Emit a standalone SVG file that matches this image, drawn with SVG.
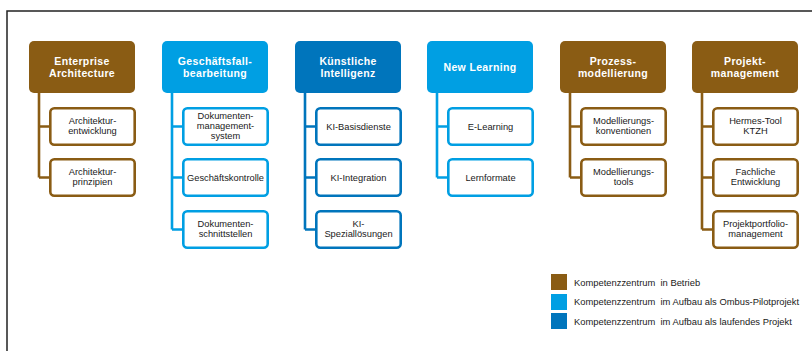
<svg xmlns="http://www.w3.org/2000/svg" width="812" height="351" viewBox="0 0 812 351">
<style>
.t{font-family:"Liberation Sans",Arial,sans-serif;font-weight:bold;font-size:10.5px;letter-spacing:0.35px;fill:#fff;text-anchor:middle}
.c{font-family:"Liberation Sans",Arial,sans-serif;font-size:9.3px;fill:#1a1a1a;text-anchor:middle}
.l{font-family:"Liberation Sans",Arial,sans-serif;font-size:9.4px;fill:#1a1a1a;white-space:pre}
.br{fill:#8A5C14}.lb{fill:#009FE3}.db{fill:#0075BC}
.cbr{fill:#fff;stroke:#8A5C14;stroke-width:2.6}
.clb{fill:#fff;stroke:#009FE3;stroke-width:2.6}
.cdb{fill:#fff;stroke:#0075BC;stroke-width:2.6}
.sbr{stroke:#8A5C14;stroke-width:2.6;fill:none}
.slb{stroke:#009FE3;stroke-width:2.6;fill:none}
.sdb{stroke:#0075BC;stroke-width:2.6;fill:none}
</style>
<rect width="812" height="351" fill="#fff"/>
<path d="M7 351 V11 H812" fill="none" stroke="#222" stroke-width="1.5"/>
<g id="connectors">
<path class="sbr" d="M39 93 V177.5 M39 126.5 H50 M39 177.5 H50"/>
<path class="slb" d="M172 93 V229.5 M172 126.5 H183 M172 177.5 H183 M172 229.5 H183"/>
<path class="sdb" d="M305 93 V229.5 M305 126.5 H316 M305 177.5 H316 M305 229.5 H316"/>
<path class="slb" d="M437 93 V177.5 M437 126.5 H448 M437 177.5 H448"/>
<path class="sbr" d="M570 93 V177.5 M570 126.5 H581 M570 177.5 H581"/>
<path class="sbr" d="M702 93 V229.5 M702 126.5 H713 M702 177.5 H713 M702 229.5 H713"/>
</g>
<g id="ea">
<rect class="br" x="29" y="41" width="106" height="52" rx="5"/>
<text class="t" x="82" y="64.5">Enterprise</text><text class="t" x="82" y="77">Architecture</text>
</g>
<g id="ea1"><rect class="cbr" x="50.3" y="108.3" width="84.4" height="36.4" rx="4"/>
<text class="c" x="92.5" y="124">Architektur-</text><text class="c" x="92.5" y="134">entwicklung</text></g>
<g id="ea2"><rect class="cbr" x="50.3" y="159.3" width="84.4" height="36.4" rx="4"/>
<text class="c" x="92.5" y="175">Architektur-</text><text class="c" x="92.5" y="185">prinzipien</text></g>

<g id="gf">
<rect class="lb" x="162" y="41" width="106" height="52" rx="5"/>
<text class="t" x="215" y="64.5">Geschäftsfall-</text><text class="t" x="215" y="77">bearbeitung</text>
</g>
<g id="gf1"><rect class="clb" x="183.3" y="108.3" width="84.4" height="36.4" rx="4"/>
<text class="c" x="225.5" y="119">Dokumenten-</text><text class="c" x="225.5" y="129">management-</text><text class="c" x="225.5" y="139">system</text></g>
<g id="gf2"><rect class="clb" x="183.3" y="159.3" width="84.4" height="36.4" rx="4"/>
<text class="c" x="225.5" y="180.5">Geschäftskontrolle</text></g>
<g id="gf3"><rect class="clb" x="183.3" y="211.3" width="84.4" height="36.4" rx="4"/>
<text class="c" x="225.5" y="227">Dokumenten-</text><text class="c" x="225.5" y="237">schnittstellen</text></g>

<g id="ki">
<rect class="db" x="295" y="41" width="106" height="52" rx="5"/>
<text class="t" x="348" y="64.5">Künstliche</text><text class="t" x="348" y="77">Intelligenz</text>
</g>
<g id="ki1"><rect class="cdb" x="316.3" y="108.3" width="84.4" height="36.4" rx="4"/>
<text class="c" x="358.5" y="129.5">KI-Basisdienste</text></g>
<g id="ki2"><rect class="cdb" x="316.3" y="159.3" width="84.4" height="36.4" rx="4"/>
<text class="c" x="358.5" y="180.5">KI-Integration</text></g>
<g id="ki3"><rect class="cdb" x="316.3" y="211.3" width="84.4" height="36.4" rx="4"/>
<text class="c" x="358.5" y="227">KI-</text><text class="c" x="358.5" y="237">Speziallösungen</text></g>

<g id="nl">
<rect class="lb" x="427" y="41" width="106" height="52" rx="5"/>
<text class="t" x="480" y="71">New Learning</text>
</g>
<g id="nl1"><rect class="clb" x="448.3" y="108.3" width="84.4" height="36.4" rx="4"/>
<text class="c" x="490.5" y="129.5">E-Learning</text></g>
<g id="nl2"><rect class="clb" x="448.3" y="159.3" width="84.4" height="36.4" rx="4"/>
<text class="c" x="490.5" y="180.5">Lernformate</text></g>

<g id="pm">
<rect class="br" x="560" y="41" width="106" height="52" rx="5"/>
<text class="t" x="613" y="64.5">Prozess-</text><text class="t" x="613" y="77">modellierung</text>
</g>
<g id="pm1"><rect class="cbr" x="581.3" y="108.3" width="84.4" height="36.4" rx="4"/>
<text class="c" x="623.5" y="124">Modellierungs-</text><text class="c" x="623.5" y="134">konventionen</text></g>
<g id="pm2"><rect class="cbr" x="581.3" y="159.3" width="84.4" height="36.4" rx="4"/>
<text class="c" x="623.5" y="175">Modellierungs-</text><text class="c" x="623.5" y="185">tools</text></g>

<g id="pj">
<rect class="br" x="692" y="41" width="106" height="52" rx="5"/>
<text class="t" x="745" y="64.5">Projekt-</text><text class="t" x="745" y="77">management</text>
</g>
<g id="pj1"><rect class="cbr" x="713.3" y="108.3" width="84.4" height="36.4" rx="4"/>
<text class="c" x="755.5" y="124">Hermes-Tool</text><text class="c" x="755.5" y="134">KTZH</text></g>
<g id="pj2"><rect class="cbr" x="713.3" y="159.3" width="84.4" height="36.4" rx="4"/>
<text class="c" x="755.5" y="175">Fachliche</text><text class="c" x="755.5" y="185">Entwicklung</text></g>
<g id="pj3"><rect class="cbr" x="713.3" y="211.3" width="84.4" height="36.4" rx="4"/>
<text class="c" x="755.5" y="227">Projektportfolio-</text><text class="c" x="755.5" y="237">management</text></g>

<g id="legend">
<rect class="br" x="551" y="274" width="16" height="16"/>
<text class="l" x="574" y="285.5">Kompetenzzentrum  in Betrieb</text>
<rect class="lb" x="551" y="294" width="16" height="16"/>
<text class="l" x="574" y="305">Kompetenzzentrum  im Aufbau als Ombus-Pilotprojekt</text>
<rect class="db" x="551" y="313" width="16" height="16"/>
<text class="l" x="574" y="324.5">Kompetenzzentrum  im Aufbau als laufendes Projekt</text>
</g>
</svg>
